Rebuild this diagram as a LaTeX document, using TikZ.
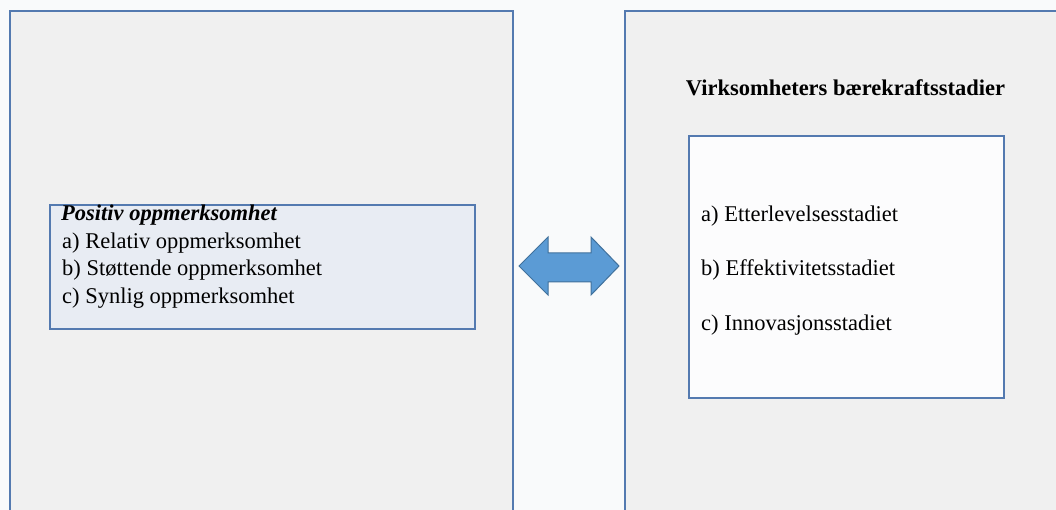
\documentclass[tikz,border=0pt]{standalone}
\usepackage{fontspec}
\setmainfont{Liberation Serif}
\definecolor{bg}{RGB}{249,250,251}
\definecolor{panel}{RGB}{240,240,240}
\definecolor{edge}{RGB}{84,122,176}
\definecolor{innerfill}{RGB}{232,236,243}
\definecolor{whitebox}{RGB}{252,252,253}
\definecolor{arrowfill}{RGB}{91,155,213}
\definecolor{arrowedge}{RGB}{65,113,156}
\tikzset{
  panelbox/.style={draw=edge, line width=2.4pt, fill=panel},
  txt/.style={anchor=base west, inner sep=0pt, font=\fontsize{22.5}{27}\selectfont},
}
\begin{document}
\begin{tikzpicture}[x=1pt,y=-1pt]
\useasboundingbox (0,0) rectangle (1056,510);
\fill[bg] (0,0) rectangle (1056,510);
\begin{scope}
\clip (0,0) rectangle (1056,510);
\draw[panelbox] (10,11) rectangle (513,530);
\draw[panelbox] (625,11) rectangle (1070,530);
\end{scope}
% left inner box
\node[draw=edge, line width=2pt, fill=innerfill, minimum width=425pt, minimum height=124pt, inner sep=0pt, anchor=north west] (lbox) at (49,204) {};
\node[txt, font=\fontsize{22.5}{27}\selectfont\bfseries\itshape] (l0) at (61,220.5) {Positiv oppmerksomhet};
\node[txt] (l1) at (62,248.5) {a) Relativ oppmerksomhet};
\node[txt] (l2) at (62,276) {b) Støttende oppmerksomhet};
\node[txt] (l3) at (62,303.5) {c) Synlig oppmerksomhet};
% right
\node[txt, anchor=base, font=\fontsize{22.5}{27}\selectfont\bfseries] (title) at (845.5,96) {Virksomheters bærekraftsstadier};
\node[draw=edge, line width=2pt, fill=whitebox, minimum width=315pt, minimum height=262pt, inner sep=0pt, anchor=north west] (rbox) at (688,135) {};
\node[txt] (r1) at (701,222) {a) Etterlevelsesstadiet};
\node[txt] (r2) at (701,276) {b) Effektivitetsstadiet};
\node[txt] (r3) at (701,330) {c) Innovasjonsstadiet};
% double arrow
\draw[fill=arrowfill, draw=arrowedge, line width=1pt, line join=miter]
  (519,266) -- (548,237) -- (548,253) -- (591,253) -- (591,237) -- (619,266)
  -- (591,295) -- (591,282) -- (548,282) -- (548,295) -- cycle;
\end{tikzpicture}
\end{document}
